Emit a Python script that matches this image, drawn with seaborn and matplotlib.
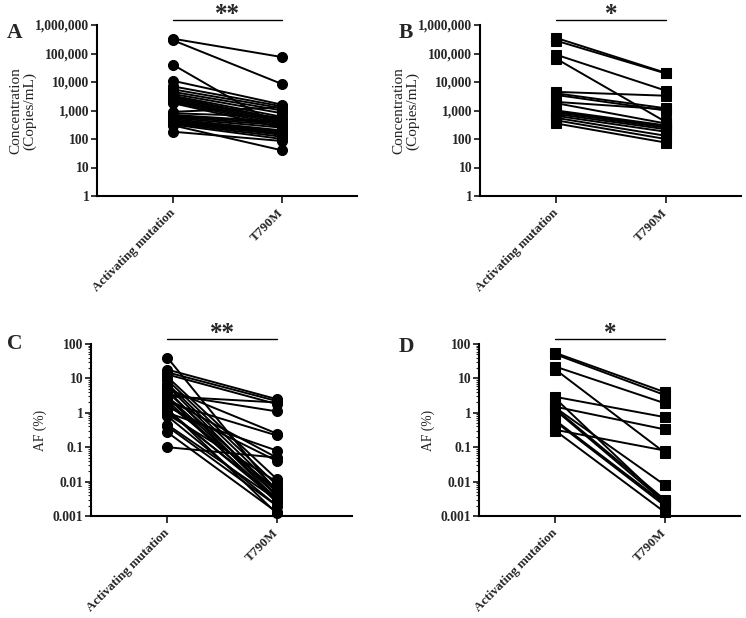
import numpy as np
import pandas as pd
import matplotlib
matplotlib.use("Agg")
import matplotlib.pyplot as plt
import matplotlib.transforms as mtransforms
from matplotlib.ticker import FixedLocator, FuncFormatter, LogLocator, NullFormatter
import seaborn as sns

# ---------------- data ----------------
categories = ["Activating mutation", "T790M"]

# Panel A: concentration (copies/mL)
a_act = [330000, 290000, 40000, 11000, 7000, 5500, 4500, 3800, 3300, 3000, 2700, 2400,
         2200, 2000, 1800, 900, 800, 700, 650, 600, 550, 500, 450, 420, 400, 380, 350,
         320, 300, 180]
a_t790m = [75000, 8500, 250, 1600, 1400, 1200, 1000, 800, 600, 500, 450, 400,
           350, 300, 250, 1300, 600, 400, 350, 300, 250, 200, 180, 160, 150, 140, 120,
           100, 40, 85]

# Panel B: concentration (copies/mL)
b_act = [350000, 280000, 90000, 65000, 4500, 4000, 3500, 2000, 1800, 1000, 900, 850,
         750, 650, 550, 450, 350]
b_t790m = [21000, 20000, 5000, 400, 3300, 1200, 1000, 1100, 350, 300, 280, 250,
           220, 180, 130, 100, 75]

# Panel C: allele frequency (%)
c_act = [40, 18, 15, 13, 11, 9, 7, 5, 4, 3.5, 3, 3, 2.5, 2.2, 2, 1.8, 1.5, 1.2, 1.0,
         0.9, 0.8, 0.45, 0.4, 0.27, 0.1, 6, 4.5, 2.8, 1.3, 1.1]
c_t790m = [0.005, 2.5, 2.2, 1.8, 0.012, 0.008, 0.006, 0.25, 0.005, 1.1, 2.0, 0.004,
           0.05, 0.003, 0.22, 0.006, 0.04, 0.003, 0.08, 0.01, 0.002, 0.003, 0.002,
           0.0013, 0.05, 0.004, 0.003, 0.0025, 0.0012, 0.0035]

# Panel D: allele frequency (%)
d_act = [55, 50, 22, 18, 2.9, 2.6, 1.5, 1.4, 1.3, 1.2, 0.6, 0.55, 0.32, 0.3]
d_t790m = [4.0, 3.3, 1.9, 0.07, 0.75, 0.0025, 0.33, 0.008, 0.003, 0.0025, 0.0023,
           0.002, 0.08, 0.0013]

conc_ticks = [1, 10, 100, 1000, 10000, 100000, 1000000]
af_ticks = [0.001, 0.01, 0.1, 1, 10, 100]
af_tick_labels = ["0.001", "0.01", "0.1", "1", "10", "100"]

panel_letters = ["A", "B", "C", "D"]
significance = ["**", "*", "**", "*"]

# ---------------- style ----------------
sns.set_theme(style="ticks")
plt.rcParams["font.family"] = ["Liberation Serif", "DejaVu Serif"]
plt.rcParams["axes.linewidth"] = 1.5
plt.rcParams["axes.edgecolor"] = "black"


def paired_frame(act, t790m):
    n = len(act)
    return pd.DataFrame({
        "id": list(range(n)) * 2,
        "group": [categories[0]] * n + [categories[1]] * n,
        "value": list(act) + list(t790m),
    })


fig = plt.figure(figsize=(7.46, 6.18), dpi=100)
W, H = 746, 618


def make_axes(left_px, top_px, right_px, bottom_px):
    return fig.add_axes([left_px / W, 1 - bottom_px / H,
                         (right_px - left_px) / W, (bottom_px - top_px) / H])


axA = make_axes(97, 25, 357, 196)
axB = make_axes(480, 25, 741, 196)
axC = make_axes(91, 344, 352, 516)
axD = make_axes(479, 344, 740, 516)

panels = [
    (axA, a_act, a_t790m, "o", 7.2, "conc"),
    (axB, b_act, b_t790m, "s", 7.5, "conc"),
    (axC, c_act, c_t790m, "o", 7.2, "af"),
    (axD, d_act, d_t790m, "s", 7.5, "af"),
]

for i, (ax, act, t7, mk, ms, kind) in enumerate(panels):
    df = paired_frame(act, t7)
    ax.set_yscale("log")
    sns.lineplot(data=df, x="group", y="value", units="id", estimator=None,
                 sort=False, color="black", lw=1.4, marker=mk, markersize=ms,
                 markeredgecolor="black", markerfacecolor="black",
                 clip_on=False, legend=False, ax=ax)
    ax.set_xlim(-0.70, 1.69)
    ax.set_xticks([0, 1])
    ax.set_xticklabels(categories, rotation=45, ha="right", va="center",
                       rotation_mode="anchor", fontweight="bold", fontsize=9.4)
    ax.set_xlabel("")
    if kind == "conc":
        ax.set_ylim(1, 1e6)
        ax.yaxis.set_major_locator(FixedLocator(conc_ticks))
        ax.yaxis.set_major_formatter(FuncFormatter(lambda v, p: f"{int(round(v)):,}"))
        ax.set_ylabel("Concentration\n(Copies/mL)", fontsize=11, color="#222222",
                      linespacing=1.05, labelpad=-1)
    else:
        ax.set_ylim(0.001, 100)
        ax.yaxis.set_major_locator(FixedLocator(af_ticks))
        ax.set_yticklabels(af_tick_labels)
        ax.set_ylabel("AF (%)", fontsize=9.8, color="#222222", labelpad=4)
    ax.yaxis.set_minor_locator(LogLocator(base=10, subs=np.arange(2, 10)))
    ax.yaxis.set_minor_formatter(NullFormatter())
    for lab in ax.get_yticklabels():
        lab.set_fontweight("bold")
        lab.set_fontsize(9.8)
    ax.tick_params(axis="y", which="major", length=4, width=1.3, pad=1.5, direction="out")
    ax.tick_params(axis="y", which="minor", length=2, width=0.8, direction="out")
    ax.tick_params(axis="x", which="major", length=5, width=1.3, pad=6, direction="out")
    sns.despine(ax=ax)
    ax.spines["left"].set_linewidth(1.5)
    ax.spines["bottom"].set_linewidth(1.5)

    # significance bar
    trans = mtransforms.blended_transform_factory(ax.transData, ax.transAxes)
    ax.plot([0, 1], [1.027, 1.027], transform=trans, color="black", lw=1.0,
            clip_on=False)
    ax.text(0.5, 1.022, significance[i], transform=trans, ha="center", va="baseline",
            fontsize=18, fontweight="bold")

# panel letters
letter_pos = [(7, 33), (399, 33), (7, 344), (399, 347)]
for letter, (x, y) in zip(panel_letters, letter_pos):
    fig.text(x / W, 1 - y / H, letter, fontsize=15.5, fontweight="bold",
             ha="left", va="center")

fig.savefig("out.png", dpi=100)
